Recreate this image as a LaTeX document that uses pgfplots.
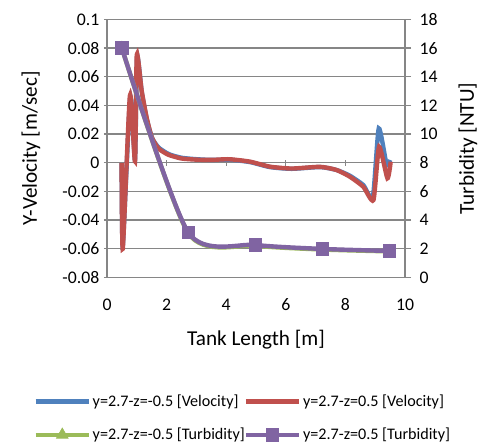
\documentclass[border=0pt]{standalone}
\usepackage{pgfplots}
\pgfplotsset{compat=1.18}
\usepackage{fontspec}
\setmainfont{Carlito}
\definecolor{xblue}{HTML}{4F81BD}
\definecolor{xred}{HTML}{C0504D}
\definecolor{xgreen}{HTML}{9BBB59}
\definecolor{xpurple}{HTML}{8064A2}
\definecolor{xgrid}{HTML}{868686}

\pgfplotstableread{
x y
0.49 0.0
0.53 -0.058
0.78 0.046
0.94 0.002
1.01 0.074
1.17 0.049
1.34 0.030
1.52 0.017
1.74 0.0105
2.08 0.006
2.50 0.0035
3.00 0.0025
3.50 0.0020
4.10 0.0022
4.80 0.0005
5.47 -0.0030
6.20 -0.0042
7.15 -0.0030
7.70 -0.0050
8.15 -0.0090
8.60 -0.0155
8.92 -0.0240
9.12 0.0240
9.38 -0.0010
9.50 0.0020
}\bluevel

\pgfplotstableread{
x y
0.49 0.0
0.53 -0.060
0.77 0.047
0.94 0.001
1.00 0.0755
1.16 0.0507
1.33 0.0316
1.50 0.018
1.72 0.0101
2.06 0.0056
2.50 0.0030
3.00 0.0022
3.50 0.0020
4.10 0.0025
4.80 0.0008
5.47 -0.0027
6.20 -0.0040
7.15 -0.0028
7.70 -0.0050
8.15 -0.0097
8.60 -0.0167
8.94 -0.0260
9.13 0.0112
9.41 -0.0108
9.52 0.0008
}\redvel

\pgfplotstableread{
x t
0.50 16.00
2.73 3.08
4.99 2.22
7.24 1.95
9.47 1.82
}\greenturb

\pgfplotstableread{
x t
0.50 16.00
2.73 3.13
4.99 2.27
7.24 1.99
9.47 1.85
}\purpleturb

\begin{document}
\begin{tikzpicture}
\path[use as bounding box] (-80.25pt,-126.4pt) rectangle (278.25pt,208.1pt);
\pgfplotsset{
  every axis/.append style={
    scale only axis, width=223.5pt, height=193.5pt,
    at={(0pt,0pt)}, anchor=south west,
    xmin=0, xmax=10,
    tick label style={font=\fontsize{13.3}{16}\selectfont, text=black},
    /pgf/number format/assume math mode=true,
    tick style={xgrid, line width=1pt},
    major tick length=4.5pt,
    tick align=outside,
    label style={font=\fontsize{15.9}{19}\selectfont},
  }
}
\begin{axis}[
  ymin=-0.08, ymax=0.1,
  axis x line=middle, axis y line=left,
  axis line style={-, xgrid, line width=1pt},
  hide obscured x ticks=false,
  ymajorgrids, grid style={xgrid, line width=1pt},
  ytick={-0.08,-0.06,-0.04,-0.02,0,0.02,0.04,0.06,0.08,0.1},
  yticklabels={-0.08,-0.06,-0.04,-0.02,0,0.02,0.04,0.06,0.08,0.1},
  xtick={0,2,4,6,8,10},
  xticklabels={0,2,4,6,8,10},
  xticklabel style={anchor=base, yshift=-108.5pt},
  xlabel={Tank Length [m]},
  xlabel style={at={(axis description cs:0.5,-0.2655)}, anchor=base, font=\fontsize{15.9}{19}\selectfont},
  ylabel={Y-Velocity [m/sec]},
  ylabel style={at={(axis description cs:-0.255,0.5)}, anchor=center},
]
\addplot[xblue, line width=3.3pt, smooth, tension=0.35, no markers] table[x=x,y=y] {\bluevel};
\addplot[xred, line width=3.3pt, smooth, tension=0.35, no markers] table[x=x,y=y] {\redvel};
\end{axis}
\begin{axis}[
  ymin=0, ymax=18,
  axis y line*=right, axis x line=none,
  axis line style={-, xgrid, line width=1pt},
  ytick={0,2,4,6,8,10,12,14,16,18},
  yticklabel style={xshift=3pt},
  ylabel={Turbidity [NTU]},
  ylabel style={at={(axis description cs:1.211,0.5)}, anchor=center},
  legend columns=2,
  legend cell align=left,
  legend image code/.code={\draw[mark repeat=2, mark phase=2, #1] plot coordinates {(0pt,0pt) (20pt,0pt) (40pt,0pt)};},
  legend style={draw=none, fill=none,
    at={(axis description cs:0.455,-0.545)}, anchor=center,
    font=\fontsize{12.1}{14}\selectfont,
    nodes={inner sep=1.2pt},
    row sep=12.5pt,
    /tikz/every even column/.append style={column sep=-2pt}},
]
\addlegendimage{xblue, line width=3.3pt}
\addlegendentry{y=2.7-z=-0.5 [Velocity]}
\addlegendimage{xred, line width=3.3pt}
\addlegendentry{y=2.7-z=0.5 [Velocity]}
\addplot[xgreen, line width=3.3pt, smooth, tension=0.42, mark=triangle*, mark size=5pt, mark options={solid, fill=xgreen, draw=xgreen, line width=0.6pt}] table[x=x,y=t] {\greenturb};
\addlegendentry{y=2.7-z=-0.5 [Turbidity]}
\addplot[xpurple, line width=3.3pt, smooth, tension=0.42, mark=square*, mark size=4.6pt, mark options={solid, fill=xpurple, draw=xpurple, line width=0.8pt}] table[x=x,y=t] {\purpleturb};
\addlegendentry{y=2.7-z=0.5 [Turbidity]}
\end{axis}
\end{tikzpicture}
\end{document}
